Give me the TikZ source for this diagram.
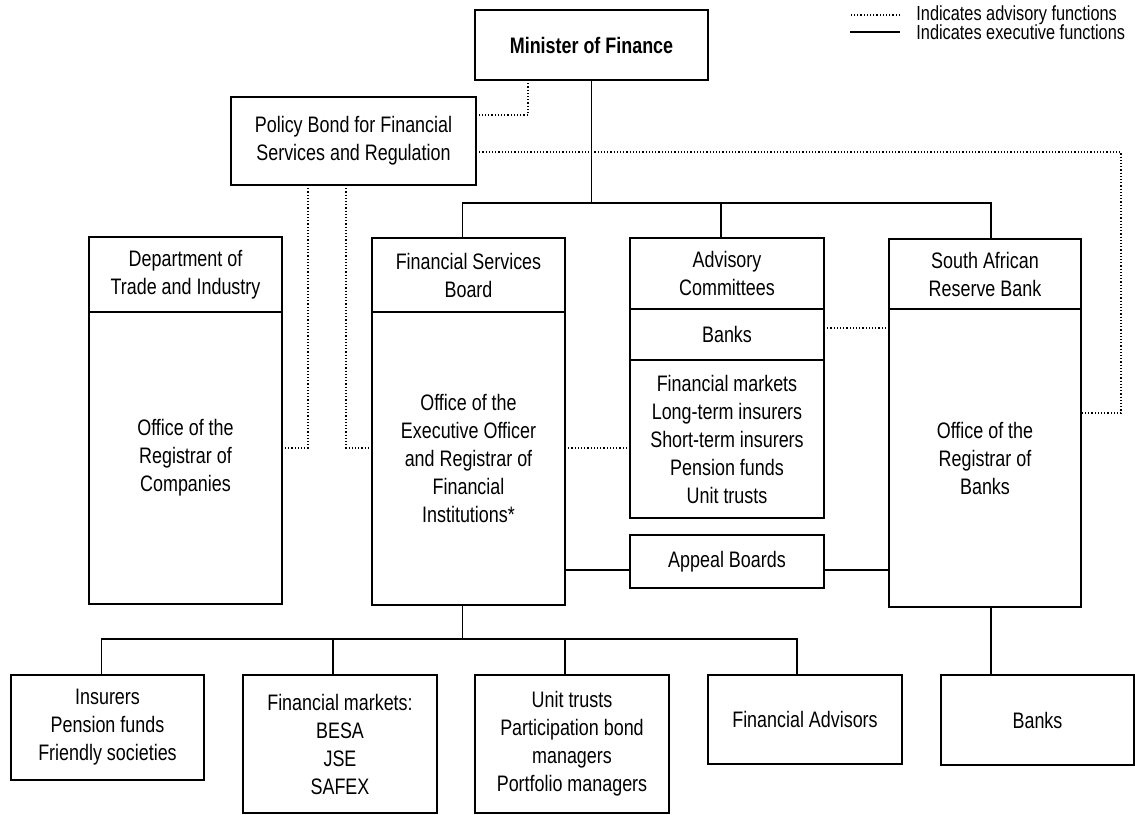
\documentclass[tikz,border=0pt]{standalone}
\usepackage{fontspec}
\setmainfont{Liberation Sans}[FakeStretch=0.8]
\usetikzlibrary{positioning}

\tikzset{
  box/.style={draw, line width=1.1pt, align=center, inner sep=2pt, outer sep=0pt,
    font=\fontsize{11.2}{14}\selectfont},
  exec/.style={line width=0.9pt},
  advis/.style={line width=0.6pt, densely dotted},
  legend/.style={anchor=west, inner sep=0pt, font=\fontsize{10.2}{10}\selectfont},
}

\begin{document}
\begin{tikzpicture}[x=0.5pt,y=-0.5pt]
  \useasboundingbox (0,0) rectangle (1135,814);

  % top level
  \node[box, minimum width=116.5pt, minimum height=35pt, font=\fontsize{11.2}{14}\selectfont\bfseries] (min) at (591.5,45) {Minister of Finance};
  \node[box, minimum width=122.5pt, minimum height=44pt] (policy) at (353.5,141) {Policy Bond for Financial\\Services and Regulation};

  % legend
  \node[legend] (lgdadv) at (916,15) {Indicates advisory functions};
  \node[legend] (lgdexe) at (916,32) {Indicates executive functions};
  \draw[advis] ([xshift=-8pt]lgdadv.west) -- ++(-50,0);
  \draw[exec] ([xshift=-8pt]lgdexe.west) -- ++(-50,0);

  % second level
  \node[box, minimum width=96.5pt, minimum height=37.5pt] (dtih) at (185.5,274.5) {Department of\\Trade and Industry};
  \node[box, minimum width=96.5pt, minimum height=146pt, below=0pt of dtih] (dtib) {Office of the\\Registrar of\\Companies};

  \node[box, minimum width=96.5pt, minimum height=37pt] (fsbh) at (468.5,275) {Financial Services\\Board};
  \node[box, minimum width=96.5pt, minimum height=146.5pt, below=0pt of fsbh] (fsbb) {Office of the\\Executive Officer\\and Registrar of\\Financial\\Institutions*};

  \node[box, minimum width=97pt, minimum height=35.5pt] (advh) at (727,273.5) {Advisory\\Committees};
  \node[box, minimum width=97pt, minimum height=25.5pt, below=0pt of advh] (advb) {Banks};
  \node[box, minimum width=97pt, minimum height=79pt, below=0pt of advb] (advl) {Financial markets\\Long-term insurers\\Short-term insurers\\Pension funds\\Unit trusts};
  \node[box, minimum width=97pt, minimum height=26.5pt] (appeal) at (727,561.5) {Appeal Boards};

  \node[box, minimum width=96pt, minimum height=35pt] (sarbh) at (985,274) {South African\\Reserve Bank};
  \node[box, minimum width=96pt, minimum height=149pt, below=0pt of sarbh] (sarbb) {Office of the\\Registrar of\\Banks};

  % bottom level
  \node[box, minimum width=96.5pt, minimum height=52.5pt] (ins) at (107.5,727.5) {Insurers\\Pension funds\\Friendly societies};
  \node[box, minimum width=97pt, minimum height=69pt] (fm) at (340,744) {Financial markets:\\BESA\\JSE\\SAFEX};
  \node[box, minimum width=97pt, minimum height=69pt] (ut) at (572,744) {Unit trusts\\Participation bond\\managers\\Portfolio managers};
  \node[box, minimum width=97pt, minimum height=44.5pt] (fa) at (805,719.5) {Financial Advisors};
  \node[box, minimum width=96.5pt, minimum height=45pt] (bk) at (1037.5,720) {Banks};

  % executive lines
  \coordinate (topbus) at (591.5,203);
  \draw[exec] (min.south) -- (topbus);
  \draw[exec] ([xshift=-3pt]fsbh.north) |- (topbus) -| ([xshift=3pt]sarbh.north);
  \draw[exec] ([xshift=-3pt]advh.north) -- ++(0,-35);
  \draw[exec] (fsbb.east |- 0,570) -- (appeal.west |- 0,570);
  \draw[exec] (appeal.east |- 0,570) -- (sarbb.west |- 0,570);

  \coordinate (botbus) at (462.5,639);
  \draw[exec] ([xshift=-3pt]fsbb.south) -- (botbus);
  \draw[exec] ([xshift=-3pt]ins.north) |- (botbus) -| ([xshift=-4pt]fa.north);
  \draw[exec] ([xshift=-3.5pt]fm.north) -- ++(0,-36);
  \draw[exec] ([xshift=-3.5pt]ut.north) -- ++(0,-36);
  \draw[exec] ([xshift=3pt]sarbb.south) -- ++(0,68);

  % advisory lines
  \draw[advis] (min.south -| 528,0) |- (policy.east |- 0,115);
  \draw[advis] (policy.east |- 0,152) -| (1121,413) -- (sarbb.east |- 0,413);
  \draw[advis] (policy.south -| 308,0) |- (dtib.east |- 0,448);
  \draw[advis] (policy.south -| 346,0) |- (fsbb.west |- 0,448);
  \draw[advis] (fsbb.east |- 0,448) -- (advl.west |- 0,448);
  \draw[advis] (advb.east |- 0,328) -- (sarbb.west |- 0,328);
\end{tikzpicture}
\end{document}
